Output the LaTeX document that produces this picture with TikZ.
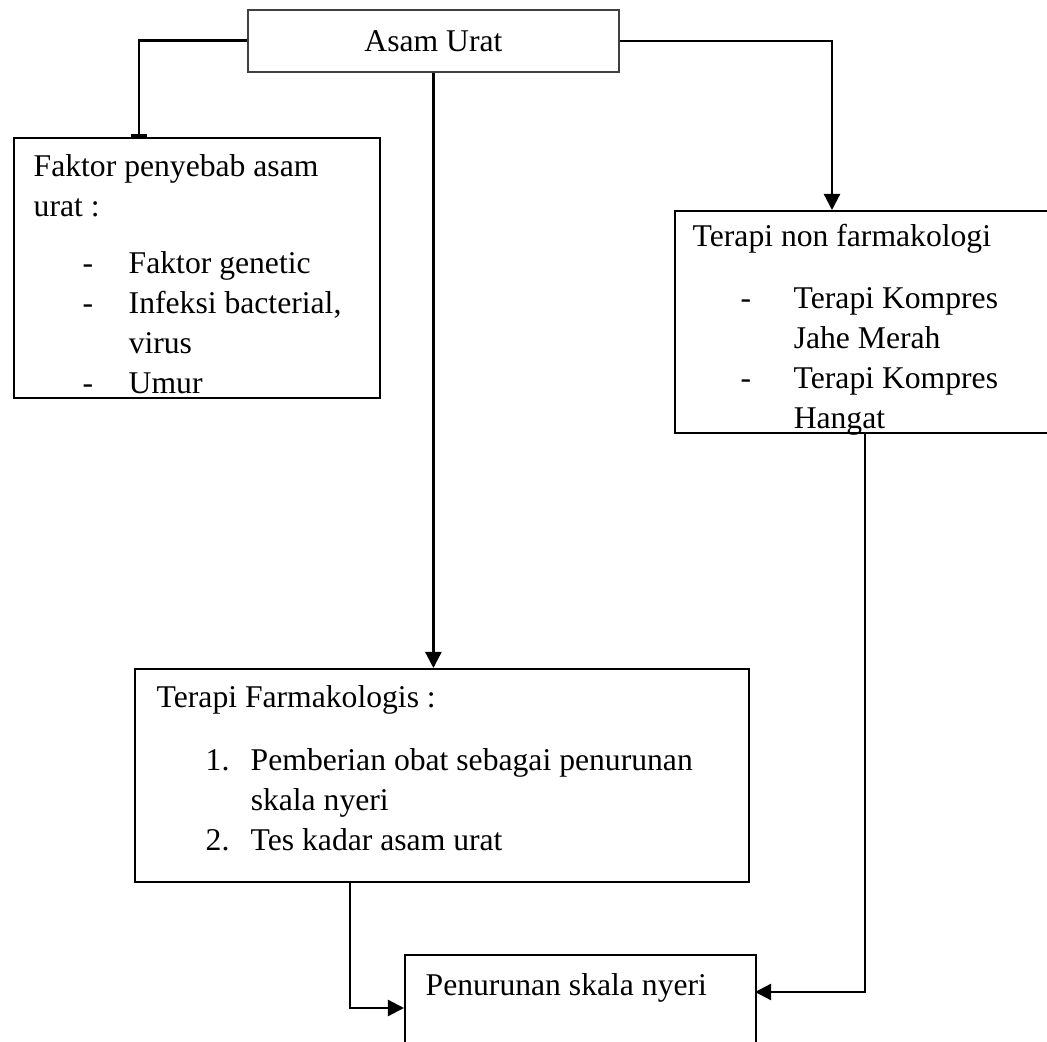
\documentclass[tikz,border=0pt]{standalone}
\usepackage{fontspec}
\setmainfont{Liberation Serif}
\usetikzlibrary{arrows.meta}
\usetikzlibrary{positioning}
\tikzset {
  % box of each block
  block/.style = {
    draw = black,
    line width = 0.6pt,
    rectangle,
    inner sep = 0,
    anchor = north west,
    font = \fontsize{9}{11.38}\selectfont
  },
  % text set inside a block
  blocktext/.style = {
    inner sep = 0,
    anchor = base west,
    font = \fontsize{9}{11.38}\selectfont
  },
  % connector with an arrow at its end
  arr/.style = {
    draw = black,
    line width = 0.65pt,
    -{Triangle[length=0.16cm, width=0.16cm]}
  },
  % connector ending in a bar
  tee/.style = {
    draw = black,
    line width = 0.75pt,
    -{Bar[width=0.15cm, line width=0.9pt]}
  }
}

\begin{document}
\begin{tikzpicture}[x=0.01cm, y=-0.01cm]
    \useasboundingbox (0,0) rectangle (1047,1042);

    \node[block, draw=black!75, line width=0.45pt, minimum width=3.71cm, minimum height=0.62cm] (asam) at (247,9) {Asam Urat};
    \node[block, minimum width=3.66cm, minimum height=2.60cm] (faktor) at (13,137) {};
    \node[block, minimum width=3.86cm, minimum height=2.22cm] (nonfarm) at (674,210) {};
    \node[block, minimum width=6.14cm, minimum height=2.13cm] (farm) at (134,668) {};
    \node[block, minimum width=3.51cm, minimum height=1.06cm] (pen) at (404,954) {};

    \node[blocktext] (faktor-text) at (33,176) {%
      \begin{tabular}[t]{@{}p{0.49cm}@{}p{0.46cm}@{}l@{}}
        \multicolumn{3}{@{}l@{}}{Faktor penyebab asam}\\
        \multicolumn{3}{@{}l@{}}{urat :}\\[0.17cm]
        & - & Faktor genetic\\
        & - & Infeksi bacterial,\\
        &   & virus\\
        & - & Umur
      \end{tabular}};
    \node[blocktext] (nonfarm-text) at (692,246) {%
      \begin{tabular}[t]{@{}p{0.48cm}@{}p{0.53cm}@{}l@{}}
        \multicolumn{3}{@{}l@{}}{Terapi non farmakologi}\\[0.22cm]
        & - & Terapi Kompres\\
        &   & Jahe Merah\\
        & - & Terapi Kompres\\
        &   & Hangat
      \end{tabular}};
    \node[blocktext] (farm-text) at (156,707) {%
      \begin{tabular}[t]{@{}p{0.49cm}@{}p{0.45cm}@{}l@{}}
        \multicolumn{3}{@{}l@{}}{Terapi Farmakologis :}\\[0.23cm]
        & 1. & Pemberian obat sebagai penurunan\\
        &    & skala nyeri\\
        & 2. & Tes kadar asam urat
      \end{tabular}};
    \node[blocktext] (pen-text) at (425,995) {Penurunan skala nyeri};

    \coordinate (faktor-in) at (139,137);
    \coordinate (nonfarm-in) at (832,210);
    \coordinate (nonfarm-out) at (865,432);
    \coordinate (farm-out) at (350,881);
    \coordinate (pen-in-left) at (404,1008);
    \coordinate (pen-in-right) at (755,992);

    \draw[tee] (asam.west) -| (faktor-in);
    \draw[arr] (asam.south) -- (asam.south |- farm.north);
    \draw[arr] (asam.east) -| (nonfarm-in);
    \draw[arr] (farm-out) |- (pen-in-left);
    \draw[arr] (nonfarm-out) |- (pen-in-right);
\end{tikzpicture}
\end{document}
